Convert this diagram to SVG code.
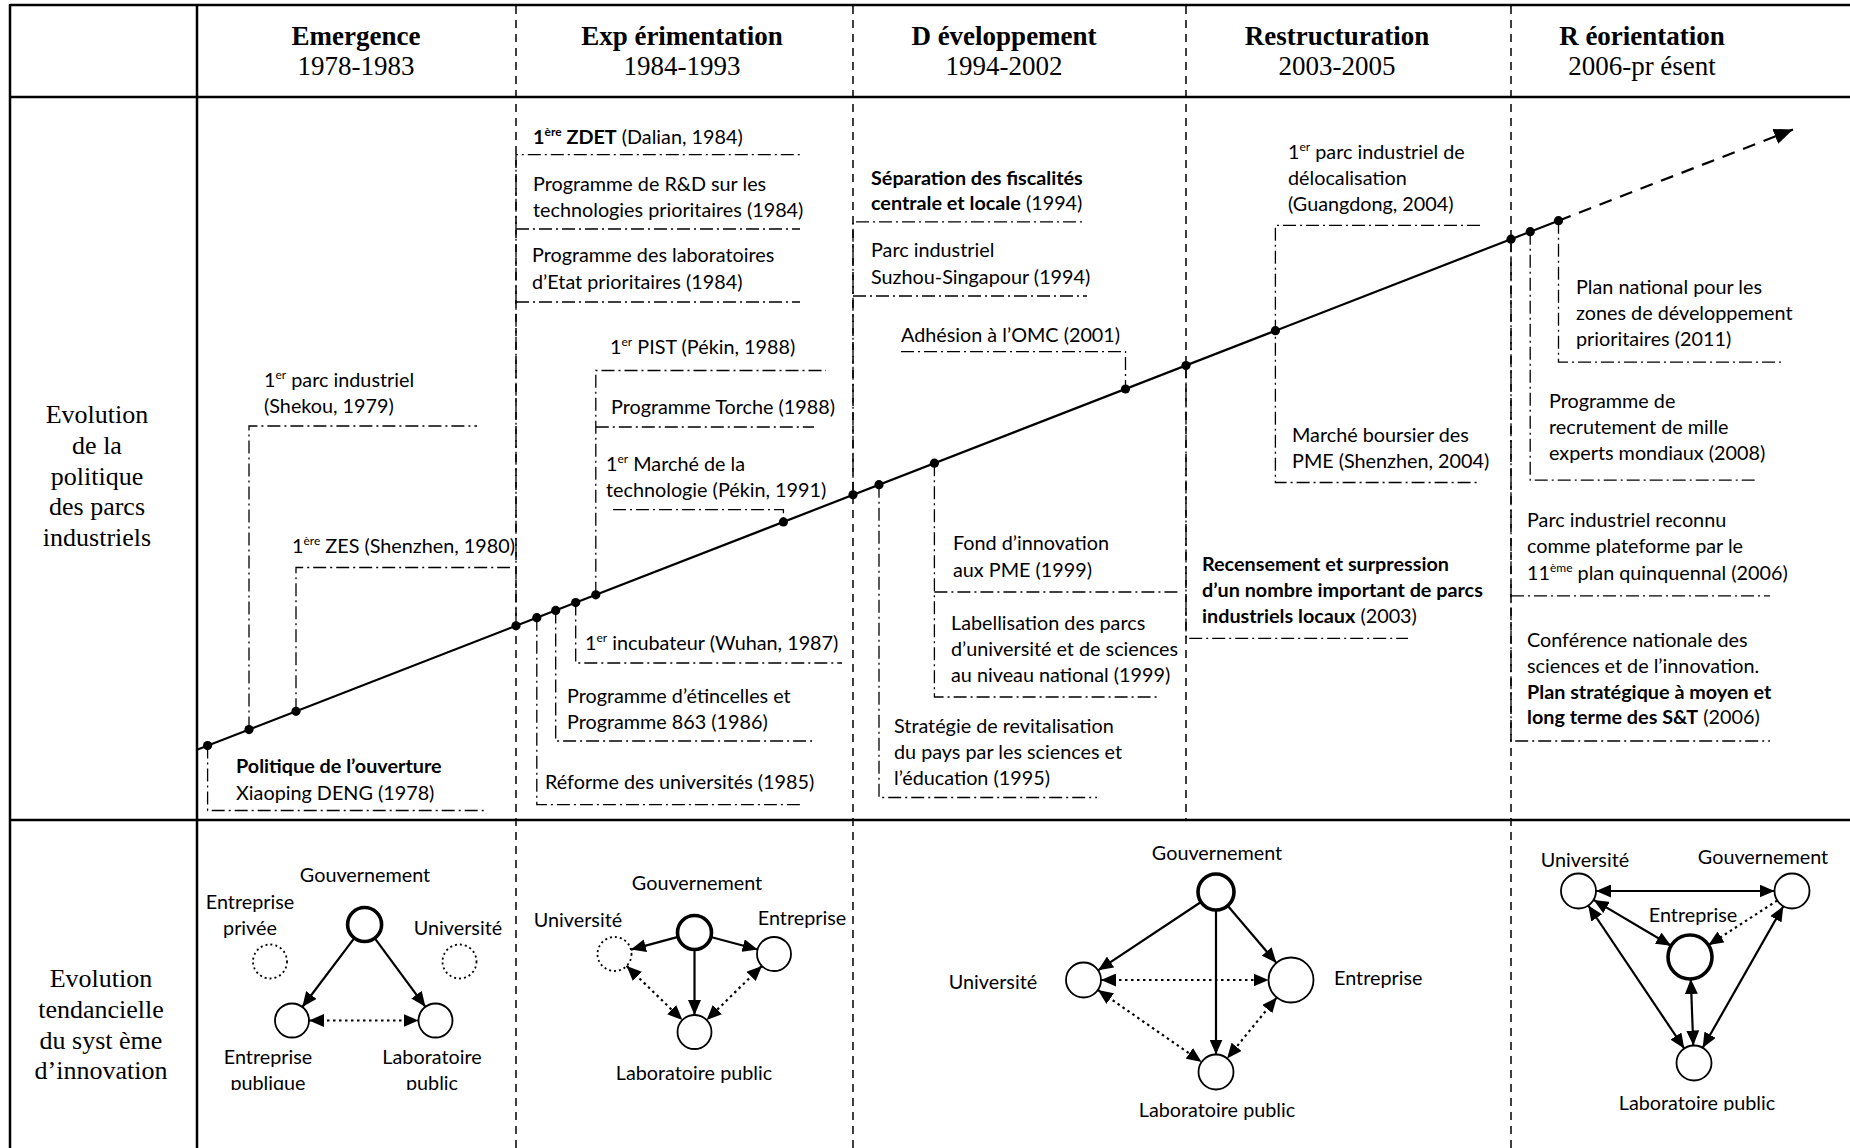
<svg xmlns="http://www.w3.org/2000/svg" width="1850" height="1148" viewBox="0 0 1850 1148">
  <style>
    .hdr { font-family: "Liberation Serif", "Times New Roman", serif; font-weight: bold; font-size: 27px; text-anchor: middle; fill: #000; }
    .yr { font-family: "Liberation Serif", "Times New Roman", serif; font-size: 27px; text-anchor: middle; fill: #000; }
    .side { font-family: "Liberation Serif", "Times New Roman", serif; font-size: 26px; text-anchor: middle; fill: #000; }
    .t { font-family: Lato, "Open Sans", sans-serif; font-size: 19.8px; fill: #000; }
    .c { text-anchor: middle; }
    .b { font-weight: bold; }
    .frame { stroke: #000; stroke-width: 2.5; fill: none; }
    .col { stroke: #000; stroke-width: 1.5; stroke-dasharray: 8 6; fill: none; }
    .dd { stroke: #000; stroke-width: 1.3; stroke-dasharray: 13 4 2 4; fill: none; }
    .axis { stroke: #000; stroke-width: 2.2; fill: none; }
    .dot { fill: #000; }
    .node { fill: #fff; stroke: #000; stroke-width: 1.8; }
    .main { stroke-width: 3.6; }
    .ghost { stroke-dasharray: 2 3; stroke-width: 1.8; }
    .arr { stroke: #000; stroke-width: 2.2; fill: none; }
    .dotted { stroke-dasharray: 2.5 3.5; }
  </style>
  <defs>
    <marker id="ah" markerUnits="userSpaceOnUse" markerWidth="16" markerHeight="13" refX="15" refY="6.5" orient="auto-start-reverse">
      <path d="M0,0 L15,6.5 L0,13 z" fill="#000"/>
    </marker>
    <marker id="big" markerUnits="userSpaceOnUse" markerWidth="20" markerHeight="16" refX="19" refY="8" orient="auto">
      <path d="M0,0 L19,8 L0,16 z" fill="#000"/>
    </marker>
    <clipPath id="cut1"><rect x="0" y="0" width="1850" height="1090"/></clipPath>
    <clipPath id="cut2"><rect x="0" y="0" width="1850" height="1111"/></clipPath>
  </defs>

  <rect width="1850" height="1148" fill="#fff"/>

  <!-- table frame -->
  <g id="table">
    <line class="frame" x1="10" y1="5" x2="1850" y2="5" stroke-width="3"/>
    <line class="frame" x1="10" y1="97" x2="1850" y2="97"/>
    <line class="frame" x1="10" y1="820" x2="1850" y2="820"/>
    <line class="frame" x1="10" y1="4" x2="10" y2="1148"/>
    <line class="frame" x1="197" y1="4" x2="197" y2="1148"/>
    <line class="col" x1="516" y1="6" x2="516" y2="1148"/>
    <line class="col" x1="853" y1="6" x2="853" y2="1148"/>
    <line class="col" x1="1186" y1="6" x2="1186" y2="820"/>
    <line class="col" x1="1511" y1="6" x2="1511" y2="1148"/>
  </g>

  <!-- period headings -->
  <g id="headings">
    <text class="hdr" x="356" y="45">Emergence</text>
    <text class="yr" x="356" y="75">1978-1983</text>
    <text class="hdr" x="682" y="45">Exp érimentation</text>
    <text class="yr" x="682" y="75">1984-1993</text>
    <text class="hdr" x="1004" y="45">D éveloppement</text>
    <text class="yr" x="1004" y="75">1994-2002</text>
    <text class="hdr" x="1337" y="45">Restructuration</text>
    <text class="yr" x="1337" y="75">2003-2005</text>
    <text class="hdr" x="1642" y="45">R éorientation</text>
    <text class="yr" x="1642" y="75">2006-pr ésent</text>
  </g>

  <!-- row headings -->
  <g id="row-policy">
    <text class="side" x="97" y="423">Evolution</text>
    <text class="side" x="97" y="454">de la</text>
    <text class="side" x="97" y="485">politique</text>
    <text class="side" x="97" y="515">des parcs</text>
    <text class="side" x="97" y="546">industriels</text>
  </g>
  <g id="row-system">
    <text class="side" x="101" y="987">Evolution</text>
    <text class="side" x="101" y="1018">tendancielle</text>
    <text class="side" x="101" y="1049">du syst ème</text>
    <text class="side" x="101" y="1079">d’innovation</text>
  </g>

  <!-- event brackets linking the timeline to each label -->
  <g id="connectors">
    <!-- Emergence -->
    <polyline class="dd" points="207.6,745.6 207.6,810.5 484,810.5"/>
    <polyline class="dd" points="249,729.6 249,426 477,426"/>
    <polyline class="dd" points="296,711.3 296,567.5 510,567.5"/>
    <!-- Expérimentation -->
    <polyline class="dd" points="516,625.8 516,154.6 800,154.6"/>
    <line class="dd" x1="516" y1="229" x2="800" y2="229"/>
    <line class="dd" x1="516" y1="302" x2="800" y2="302"/>
    <polyline class="dd" points="595.8,594.8 595.8,370.5 826,370.5"/>
    <line class="dd" x1="595.8" y1="427" x2="814" y2="427"/>
    <polyline class="dd" points="613,509.7 783.4,509.7 783.4,521.9"/>
    <polyline class="dd" points="575.7,602.6 575.7,663 842,663"/>
    <polyline class="dd" points="555.7,610.4 555.7,741 814,741"/>
    <polyline class="dd" points="536.8,617.7 536.8,804.6 802,804.6"/>
    <!-- Développement -->
    <polyline class="dd" points="853,494.8 853,221.8 1083,221.8"/>
    <line class="dd" x1="853" y1="296" x2="1087" y2="296"/>
    <polyline class="dd" points="901,351.6 1125.5,351.6 1125.5,389"/>
    <polyline class="dd" points="934.4,463.2 934.4,697 1159,697"/>
    <line class="dd" x1="934.4" y1="592" x2="1180" y2="592"/>
    <polyline class="dd" points="879,484.7 879,797.5 1097,797.5"/>
    <!-- Restructuration -->
    <polyline class="dd" points="1480,225.3 1275.4,225.3 1275.4,482.5 1480,482.5"/>
    <polyline class="dd" points="1186,365.5 1186,638.3 1408,638.3"/>
    <!-- Réorientation -->
    <polyline class="dd" points="1558.5,220.7 1558.5,362.2 1781,362.2"/>
    <polyline class="dd" points="1530.2,231.7 1530.2,480.2 1758,480.2"/>
    <polyline class="dd" points="1511,239.2 1511,741 1770,741"/>
    <line class="dd" x1="1511" y1="595.8" x2="1770" y2="595.8"/>
  </g>

  <!-- timeline -->
  <g id="timeline">
    <line class="axis" x1="197" y1="749.8" x2="1558.5" y2="220.7"/>
    <line class="axis" x1="1558.5" y1="220.7" x2="1793" y2="129.5" stroke-dasharray="13 9" marker-end="url(#big)"/>
    <g class="dot">
      <circle cx="207.6" cy="745.6" r="4.6"/>
      <circle cx="249" cy="729.6" r="4.6"/>
      <circle cx="296" cy="711.3" r="4.6"/>
      <circle cx="516" cy="625.8" r="4.6"/>
      <circle cx="536.8" cy="617.7" r="4.6"/>
      <circle cx="555.7" cy="610.4" r="4.6"/>
      <circle cx="575.7" cy="602.6" r="4.6"/>
      <circle cx="595.8" cy="594.8" r="4.6"/>
      <circle cx="783.4" cy="521.9" r="4.6"/>
      <circle cx="853" cy="494.8" r="4.6"/>
      <circle cx="879" cy="484.7" r="4.6"/>
      <circle cx="934.4" cy="463.2" r="4.6"/>
      <circle cx="1125.5" cy="389" r="4.6"/>
      <circle cx="1186" cy="365.5" r="4.6"/>
      <circle cx="1275.4" cy="330.7" r="4.6"/>
      <circle cx="1511" cy="239.2" r="4.6"/>
      <circle cx="1530.2" cy="231.7" r="4.6"/>
      <circle cx="1558.5" cy="220.7" r="4.6"/>
    </g>
  </g>

  <!-- policy events -->
  <g id="ev-1978" class="t">
    <text x="236" y="773" class="b">Politique de l’ouverture</text>
    <text x="236" y="800">Xiaoping DENG (1978)</text>
  </g>
  <g id="ev-1979" class="t">
    <text x="264" y="387">1<tspan dy="-8" font-size="12">er</tspan><tspan dy="8"> parc industriel</tspan></text>
    <text x="264" y="413">(Shekou, 1979)</text>
  </g>
  <g id="ev-1980" class="t">
    <text x="292" y="553">1<tspan dy="-8" font-size="12">ère</tspan><tspan dy="8"> ZES (Shenzhen, 1980)</tspan></text>
  </g>
  <g id="ev-1984a" class="t">
    <text x="533" y="144"><tspan class="b">1</tspan><tspan class="b" dy="-8" font-size="12">ère</tspan><tspan class="b" dy="8"> ZDET</tspan> (Dalian, 1984)</text>
  </g>
  <g id="ev-1984b" class="t">
    <text x="533" y="191">Programme de R&amp;D sur les</text>
    <text x="533" y="217">technologies prioritaires (1984)</text>
  </g>
  <g id="ev-1984c" class="t">
    <text x="532" y="262">Programme des laboratoires</text>
    <text x="532" y="289">d’Etat prioritaires (1984)</text>
  </g>
  <g id="ev-1988a" class="t">
    <text x="610" y="354">1<tspan dy="-8" font-size="12">er</tspan><tspan dy="8"> PIST (Pékin, 1988)</tspan></text>
  </g>
  <g id="ev-1988b" class="t">
    <text x="611" y="414">Programme Torche (1988)</text>
  </g>
  <g id="ev-1991" class="t">
    <text x="606" y="471">1<tspan dy="-8" font-size="12">er</tspan><tspan dy="8"> Marché de la</tspan></text>
    <text x="606" y="497">technologie (Pékin, 1991)</text>
  </g>
  <g id="ev-1987" class="t">
    <text x="585" y="650">1<tspan dy="-8" font-size="12">er</tspan><tspan dy="8"> incubateur (Wuhan, 1987)</tspan></text>
  </g>
  <g id="ev-1986" class="t">
    <text x="567" y="703">Programme d’étincelles et</text>
    <text x="567" y="729">Programme 863 (1986)</text>
  </g>
  <g id="ev-1985" class="t">
    <text x="545" y="789">Réforme des universités (1985)</text>
  </g>
  <g id="ev-1994a" class="t">
    <text x="871" y="185" class="b">Séparation des fiscalités</text>
    <text x="871" y="210"><tspan class="b">centrale et locale</tspan> (1994)</text>
  </g>
  <g id="ev-1994b" class="t">
    <text x="871" y="257">Parc industriel</text>
    <text x="871" y="284">Suzhou-Singapour (1994)</text>
  </g>
  <g id="ev-2001" class="t">
    <text x="901" y="342">Adhésion à l’OMC (2001)</text>
  </g>
  <g id="ev-1999a" class="t">
    <text x="953" y="550">Fond d’innovation</text>
    <text x="953" y="577">aux PME (1999)</text>
  </g>
  <g id="ev-1999b" class="t">
    <text x="951" y="630">Labellisation des parcs</text>
    <text x="951" y="656">d’université et de sciences</text>
    <text x="951" y="682">au niveau national (1999)</text>
  </g>
  <g id="ev-1995" class="t">
    <text x="894" y="733">Stratégie de revitalisation</text>
    <text x="894" y="759">du pays par les sciences et</text>
    <text x="894" y="785">l’éducation (1995)</text>
  </g>
  <g id="ev-2004a" class="t">
    <text x="1288" y="159">1<tspan dy="-8" font-size="12">er</tspan><tspan dy="8"> parc industriel de</tspan></text>
    <text x="1288" y="185">délocalisation</text>
    <text x="1288" y="211">(Guangdong, 2004)</text>
  </g>
  <g id="ev-2004b" class="t">
    <text x="1292" y="442">Marché boursier des</text>
    <text x="1292" y="468">PME (Shenzhen, 2004)</text>
  </g>
  <g id="ev-2003" class="t">
    <text x="1202" y="571" class="b">Recensement et surpression</text>
    <text x="1202" y="597" class="b">d’un nombre important de parcs</text>
    <text x="1202" y="623"><tspan class="b">industriels locaux</tspan> (2003)</text>
  </g>
  <g id="ev-2011" class="t">
    <text x="1576" y="294">Plan national pour les</text>
    <text x="1576" y="320">zones de développement</text>
    <text x="1576" y="346">prioritaires (2011)</text>
  </g>
  <g id="ev-2008" class="t">
    <text x="1549" y="408">Programme de</text>
    <text x="1549" y="434">recrutement de mille</text>
    <text x="1549" y="460">experts mondiaux (2008)</text>
  </g>
  <g id="ev-2006a" class="t">
    <text x="1527" y="527">Parc industriel reconnu</text>
    <text x="1527" y="553">comme plateforme par le</text>
    <text x="1527" y="580">11<tspan dy="-8" font-size="12">ème</tspan><tspan dy="8"> plan quinquennal (2006)</tspan></text>
  </g>
  <g id="ev-2006b" class="t">
    <text x="1527" y="647">Conférence nationale des</text>
    <text x="1527" y="673">sciences et de l’innovation.</text>
    <text x="1527" y="699" class="b">Plan stratégique à moyen et</text>
    <text x="1527" y="724"><tspan class="b">long terme des S&amp;T</tspan> (2006)</text>
  </g>

  <!-- innovation system: Emergence -->
  <g id="em-gov"><circle class="node main" cx="364.6" cy="924.5" r="17"/><text class="t c" x="365" y="882">Gouvernement</text></g>
  <g id="em-priv"><circle class="node ghost" cx="270" cy="961.5" r="17"/><text class="t c" x="250" y="909">Entreprise</text><text class="t c" x="250" y="935">privée</text></g>
  <g id="em-univ"><circle class="node ghost" cx="459.5" cy="961.5" r="17"/><text class="t c" x="458" y="935">Université</text></g>
  <g id="em-ent"><circle class="node" cx="292" cy="1020.5" r="17"/><g clip-path="url(#cut1)"><text class="t c" x="268" y="1064">Entreprise</text><text class="t c" x="268" y="1090">publique</text></g></g>
  <g id="em-lab"><circle class="node" cx="435.5" cy="1020.5" r="17"/><g clip-path="url(#cut1)"><text class="t c" x="432" y="1064">Laboratoire</text><text class="t c" x="432" y="1090">public</text></g></g>

  <!-- innovation system: Expérimentation -->
  <g id="ex-gov"><circle class="node main" cx="694.5" cy="932.5" r="17"/><text class="t c" x="697" y="890">Gouvernement</text></g>
  <g id="ex-univ"><circle class="node ghost" cx="614.5" cy="954" r="17"/><text class="t c" x="578" y="927">Université</text></g>
  <g id="ex-ent"><circle class="node" cx="774" cy="954" r="17"/><text class="t c" x="802" y="925">Entreprise</text></g>
  <g id="ex-lab"><circle class="node" cx="694.5" cy="1032" r="17"/><text class="t c" x="694" y="1080">Laboratoire public</text></g>

  <!-- innovation system: Développement -->
  <g id="dv-gov"><circle class="node main" cx="1216" cy="892" r="18"/><text class="t c" x="1217" y="860">Gouvernement</text></g>
  <g id="dv-univ"><circle class="node" cx="1083.5" cy="980" r="17.5"/><text class="t c" x="993" y="989">Université</text></g>
  <g id="dv-ent"><circle class="node" cx="1291" cy="980" r="22.5"/><text class="t" x="1334" y="985">Entreprise</text></g>
  <g id="dv-lab"><circle class="node" cx="1216" cy="1072" r="17.5"/><text class="t c" x="1217" y="1117">Laboratoire public</text></g>

  <!-- innovation system: Réorientation -->
  <g id="ro-univ"><circle class="node" cx="1578.5" cy="891" r="17.5"/><text class="t c" x="1585" y="867">Université</text></g>
  <g id="ro-gov"><circle class="node" cx="1792" cy="891" r="17.5"/><text class="t c" x="1763" y="864">Gouvernement</text></g>
  <g id="ro-ent"><circle class="node main" cx="1690" cy="957" r="22"/><text class="t c" x="1693" y="922">Entreprise</text></g>
  <g id="ro-lab"><circle class="node" cx="1694" cy="1063" r="17.5"/><g clip-path="url(#cut2)"><text class="t c" x="1697" y="1110">Laboratoire public</text></g></g>

  <!-- innovation system links -->
  <g id="links">
    <line class="arr" x1="354.3" y1="938.1" x2="302.3" y2="1007" marker-end="url(#ah)"/>
    <line class="arr" x1="374.7" y1="938.2" x2="425.4" y2="1006.8" marker-end="url(#ah)"/>
    <line class="arr dotted" x1="309" y1="1020.5" x2="418.5" y2="1020.5" marker-start="url(#ah)" marker-end="url(#ah)"/>

    <line class="arr" x1="678.1" y1="936.9" x2="630.9" y2="949.6" marker-end="url(#ah)"/>
    <line class="arr" x1="710.9" y1="937" x2="757.6" y2="949.5" marker-end="url(#ah)"/>
    <line class="arr" x1="694.5" y1="949.5" x2="694.5" y2="1015" marker-end="url(#ah)"/>
    <line class="arr dotted" x1="626.6" y1="965.9" x2="682.4" y2="1020.1" marker-start="url(#ah)" marker-end="url(#ah)"/>
    <line class="arr dotted" x1="761.9" y1="965.9" x2="706.6" y2="1020.1" marker-start="url(#ah)" marker-end="url(#ah)"/>

    <line class="arr" x1="1201" y1="902" x2="1098.1" y2="970.3" marker-end="url(#ah)"/>
    <line class="arr" x1="1227.7" y1="905.7" x2="1276.4" y2="962.9" marker-end="url(#ah)"/>
    <line class="arr" x1="1216" y1="910" x2="1216" y2="1054.5" marker-end="url(#ah)"/>
    <line class="arr dotted" x1="1101" y1="980" x2="1268.5" y2="980" marker-start="url(#ah)" marker-end="url(#ah)"/>
    <line class="arr dotted" x1="1097.9" y1="990" x2="1201.6" y2="1062" marker-start="url(#ah)" marker-end="url(#ah)"/>
    <line class="arr dotted" x1="1276.8" y1="997.4" x2="1227.1" y2="1058.4" marker-start="url(#ah)" marker-end="url(#ah)"/>

    <line class="arr" x1="1596" y1="891" x2="1774.5" y2="891" marker-start="url(#ah)" marker-end="url(#ah)"/>
    <line class="arr" x1="1593.6" y1="899.9" x2="1671.1" y2="945.8" marker-start="url(#ah)" marker-end="url(#ah)"/>
    <line class="arr dotted" x1="1777.3" y1="900.5" x2="1708.5" y2="945.1" marker-end="url(#ah)"/>
    <line class="arr" x1="1690.8" y1="979" x2="1693.3" y2="1045.5" marker-start="url(#ah)" marker-end="url(#ah)"/>
    <line class="arr" x1="1588.3" y1="905.5" x2="1684.3" y2="1048.5" marker-start="url(#ah)" marker-end="url(#ah)"/>
    <line class="arr" x1="1783.3" y1="906.2" x2="1702.7" y2="1047.8" marker-start="url(#ah)" marker-end="url(#ah)"/>
  </g>
</svg>
